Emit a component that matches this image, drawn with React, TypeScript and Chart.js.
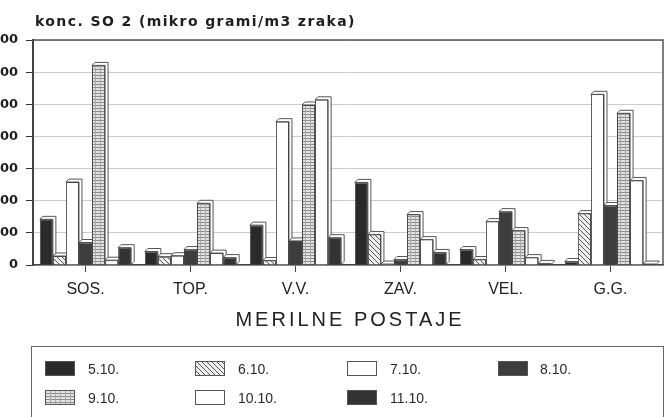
import React, { useEffect, useRef } from "react";
import { Chart, registerables } from "chart.js";

Chart.register(...registerables);

// ---------- data ----------
const categories = ["SOS.", "TOP.", "V.V.", "ZAV.", "VEL.", "G.G."];
const seriesLabels = ["5.10.", "6.10.", "7.10.", "8.10.", "9.10.", "10.10.", "11.10."];
const s0510 = [142, 42, 124, 257, 48, 11];
const s0610 = [28, 26, 14, 95, 17, 160];
const s0710 = [258, 29, 446, 3, 135, 531];
const s0810 = [70, 48, 75, 17, 166, 185];
const s0910 = [621, 192, 498, 157, 107, 472];
const s1010 = [15, 37, 514, 79, 23, 263];
const s1110 = [54, 23, 85, 39, 5, 3];
const yMin = 0;
const yMax = 700;
const yStep = 100;
const chartTitle = "konc. SO 2 (mikro grami/m3 zraka)";
const xTitle = "MERILNE POSTAJE";

// ---------- layout ----------
const OFF = 20; // canvas shifted left so y labels are clipped like the reference
const W = 669;
const H = 417;

function makeTile(kind: string): HTMLCanvasElement {
  const t = document.createElement("canvas");
  const c = t.getContext("2d")!;
  if (kind === "hatch") {
    t.width = 5; t.height = 5;
    c.fillStyle = "#eeeeee"; c.fillRect(0, 0, 5, 5);
    c.strokeStyle = "#555"; c.lineWidth = 1;
    c.beginPath();
    c.moveTo(-1, -1); c.lineTo(6, 6);
    c.moveTo(-1, 4); c.lineTo(1, 6);
    c.moveTo(4, -1); c.lineTo(6, 1);
    c.stroke();
  } else {
    t.width = 5; t.height = 3;
    c.fillStyle = "#e2e2e2"; c.fillRect(0, 0, 5, 3);
    c.fillStyle = "#8a8a8a"; c.fillRect(0, 0, 5, 1);
    c.fillStyle = "#a8a8a8"; c.fillRect(0, 0, 1, 3);
  }
  return t;
}

const decor = {
  id: "decor",
  beforeDatasetsDraw(chart: any) {
    const ctx = chart.ctx;
    const d = 3;
    chart.data.datasets.forEach((_ds: any, i: number) => {
      const meta = chart.getDatasetMeta(i);
      meta.data.forEach((bar: any) => {
        const { x, y, base, width } = bar.getProps(["x", "y", "base", "width"], true);
        const x0 = x - width / 2;
        const x1 = x + width / 2;
        ctx.save();
        ctx.fillStyle = "#fff";
        ctx.strokeStyle = "#555";
        ctx.lineWidth = 1;
        ctx.beginPath();
        ctx.moveTo(x0, y);
        ctx.lineTo(x0 + d, y - d);
        ctx.lineTo(x1 + d, y - d);
        ctx.lineTo(x1 + d, base - d);
        ctx.lineTo(x1, base);
        ctx.lineTo(x1, y);
        ctx.closePath();
        ctx.fill();
        ctx.stroke();
        ctx.restore();
      });
    });
  },
  afterDraw(chart: any) {
    const ctx = chart.ctx;
    const a = chart.chartArea;
    ctx.save();
    // frame top & right
    ctx.strokeStyle = "#555";
    ctx.lineWidth = 1.5;
    ctx.beginPath();
    ctx.moveTo(a.left, a.top);
    ctx.lineTo(a.right, a.top);
    ctx.lineTo(a.right, a.bottom);
    ctx.stroke();

    // chart title
    ctx.fillStyle = "#1e1e1e";
    ctx.font = 'bold 14px "DejaVu Sans"';
    (ctx as any).letterSpacing = "1.4px";
    ctx.textAlign = "left";
    ctx.textBaseline = "alphabetic";
    ctx.fillText(chartTitle, 35 + OFF, 26);

    // x axis title
    ctx.fillStyle = "#222";
    ctx.font = '20px "Liberation Sans"';
    (ctx as any).letterSpacing = "3px";
    ctx.textAlign = "center";
    ctx.textBaseline = "middle";
    ctx.fillText(xTitle, 350 + OFF, 320);
    (ctx as any).letterSpacing = "0px";

    // legend box
    ctx.strokeStyle = "#666";
    ctx.lineWidth = 1;
    ctx.strokeRect(31.5 + OFF, 346.5, 632, 120);
    const colSw = [45, 195, 347, 498];
    const colTx = [88, 238, 390, 540];
    const rowTop = [361, 390];
    ctx.font = '14px "Liberation Sans"';
    ctx.textAlign = "left";
    ctx.textBaseline = "middle";
    chart.data.datasets.forEach((ds: any, i: number) => {
      const r = Math.floor(i / 4);
      const c = i % 4;
      const sx = colSw[c] + OFF;
      const sy = rowTop[r];
      ctx.fillStyle = ds.backgroundColor;
      ctx.fillRect(sx, sy, 30, 15);
      ctx.strokeStyle = "#555";
      ctx.strokeRect(sx + 0.5, sy + 0.5, 29, 14);
      ctx.fillStyle = "#2a2a2a";
      ctx.fillText(ds.label, colTx[c] + OFF, sy + 9);
    });
    ctx.restore();
  },
};

export default function App() {
  const ref = useRef<HTMLCanvasElement>(null);
  useEffect(() => {
    const canvas = ref.current!;
    const ctx = canvas.getContext("2d")!;
    const hatch = ctx.createPattern(makeTile("hatch"), "repeat");
    const grid = ctx.createPattern(makeTile("grid"), "repeat");
    const fills = ["#2a2a2a", hatch, "#ffffff", "#3d3d3d", grid, "#ffffff", "#333333"];
    const values = [s0510, s0610, s0710, s0810, s0910, s1010, s1110];
    const chart = new Chart(canvas, {
      type: "bar",
      data: {
        labels: categories,
        datasets: seriesLabels.map((l, i) => ({
          label: l,
          data: values[i],
          backgroundColor: fills[i] as any,
          borderColor: "#444",
          borderWidth: 1,
          categoryPercentage: 0.87,
          barPercentage: 1.0,
        })),
      },
      options: {
        responsive: false,
        animation: false,
        devicePixelRatio: 1,
        layout: { padding: { left: 0, right: 6, top: 40, bottom: 112 } },
        plugins: { legend: { display: false }, title: { display: false }, tooltip: { enabled: false } },
        scales: {
          x: {
            grid: { display: true, drawOnChartArea: false, drawTicks: true, tickLength: 7, tickColor: "#444", offset: false },
            border: { display: true, color: "#444", width: 1.5 },
            ticks: { color: "#222", font: { family: "Liberation Sans", size: 16, lineHeight: 1 }, padding: 10 },
            afterFit: (s: any) => { s.height = 40; },
          },
          y: {
            min: yMin,
            max: yMax,
            ticks: { stepSize: yStep, color: "#1e1e1e", font: { family: "DejaVu Sans", size: 13, weight: "bold" }, padding: 8 },
            grid: { color: "#cccccc", tickColor: "#333", tickLength: 7, lineWidth: 1 },
            border: { display: true, color: "#444", width: 2 },
            afterFit: (s: any) => { s.width = 33 + OFF; },
          },
        },
      },
      plugins: [decor],
    });
    return () => chart.destroy();
  }, []);
  return (
    <div style={{ position: "fixed", left: 0, top: 0, width: W, height: H, overflow: "hidden", background: "#fff" }}>
      <canvas ref={ref} width={W + OFF} height={H} style={{ position: "absolute", left: -OFF, top: 0, width: W + OFF, height: H }} />
    </div>
  );
}
